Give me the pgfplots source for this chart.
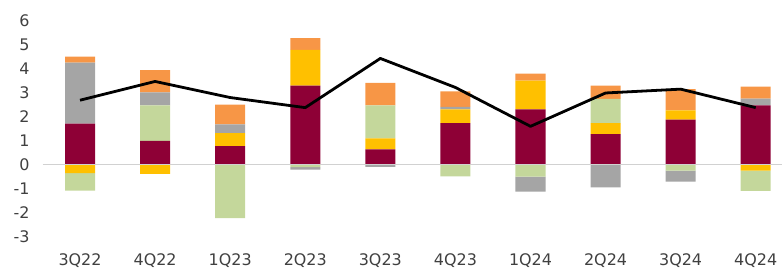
\documentclass[border=0pt]{standalone}
\usepackage{pgfplots}
\pgfplotsset{compat=1.18}
\usepackage{fontspec}
\setmainfont{DejaVu Sans}
\definecolor{cMar}{HTML}{8E0036}
\definecolor{cYel}{HTML}{FFC000}
\definecolor{cGrn}{HTML}{C4D79B}
\definecolor{cGry}{HTML}{A5A5A5}
\definecolor{cOrg}{HTML}{F79646}
\definecolor{cTxt}{HTML}{404040}
\pgfplotsset{base/.style={
  scale only axis, width=739.5bp, height=216bp,
  xmin=-0.5, xmax=9.35, ymin=-3, ymax=6,
  at={(42.5bp,32.5bp)}, anchor=south west,
  xtick={0,...,9}, ytick={-3,...,6},
  axis line style={draw=none}, major tick length=0pt,
  tick style={draw=none},
}}
\begin{document}
\begin{tikzpicture}
\path[use as bounding box] (0,0) rectangle (782bp,269bp);
% positive contributions
\begin{axis}[base,
  ybar stacked, bar width=0.4,
  xticklabels={3Q22,4Q22,1Q23,2Q23,3Q23,4Q23,1Q24,2Q24,3Q24,4Q24},
  /pgf/number format/assume math mode=true,
  tick label style={font=\fontsize{16}{19}\selectfont, text=cTxt},
  yticklabel style={xshift=-9.5bp},
  xticklabel style={yshift=-14bp},
]
\addplot[fill=cMar, draw=none] coordinates {(0,1.70) (1,0.98) (2,0.77) (3,3.29) (4,0.63) (5,1.72) (6,2.30) (7,1.27) (8,1.87) (9,2.46)};
\addplot[fill=cYel, draw=none] coordinates {(0,0) (1,0) (2,0.54) (3,1.49) (4,0.46) (5,0.58) (6,1.19) (7,0.45) (8,0.39) (9,0)};
\addplot[fill=cGrn, draw=none] coordinates {(0,0) (1,1.48) (2,0) (3,0) (4,1.37) (5,0) (6,0) (7,1.01) (8,0) (9,0)};
\addplot[fill=cGry, draw=none] coordinates {(0,2.54) (1,0.55) (2,0.36) (3,0) (4,0) (5,0.10) (6,0) (7,0) (8,0) (9,0.29)};
\addplot[fill=cOrg, draw=none] coordinates {(0,0.25) (1,0.92) (2,0.83) (3,0.49) (4,0.94) (5,0.65) (6,0.30) (7,0.56) (8,0.88) (9,0.50)};
\end{axis}
% negative contributions
\begin{axis}[base, hide axis,
  ybar stacked, bar width=0.4,
]
\addplot[fill=cYel, draw=none] coordinates {(0,-0.36) (1,-0.39) (2,0) (3,0) (4,0) (5,0) (6,0) (7,0) (8,0) (9,-0.25)};
\addplot[fill=cGrn, draw=none] coordinates {(0,-0.73) (1,0) (2,-2.23) (3,-0.11) (4,0) (5,-0.49) (6,-0.50) (7,0) (8,-0.25) (9,-0.85)};
\addplot[fill=cGry, draw=none] coordinates {(0,0) (1,0) (2,0) (3,-0.10) (4,-0.10) (5,0) (6,-0.63) (7,-0.95) (8,-0.46) (9,0)};
\end{axis}
% zero line and total
\begin{axis}[base, hide axis]
\addplot[draw=black!18, line width=1.6pt] coordinates {(-0.5,0) (9.35,0)};
\addplot[draw=black, line width=2.8pt, line join=round] coordinates {(0,2.68) (1,3.46) (2,2.79) (3,2.37) (4,4.42) (5,3.21) (6,1.59) (7,2.98) (8,3.14) (9,2.37)};
\end{axis}
\end{tikzpicture}
\end{document}
